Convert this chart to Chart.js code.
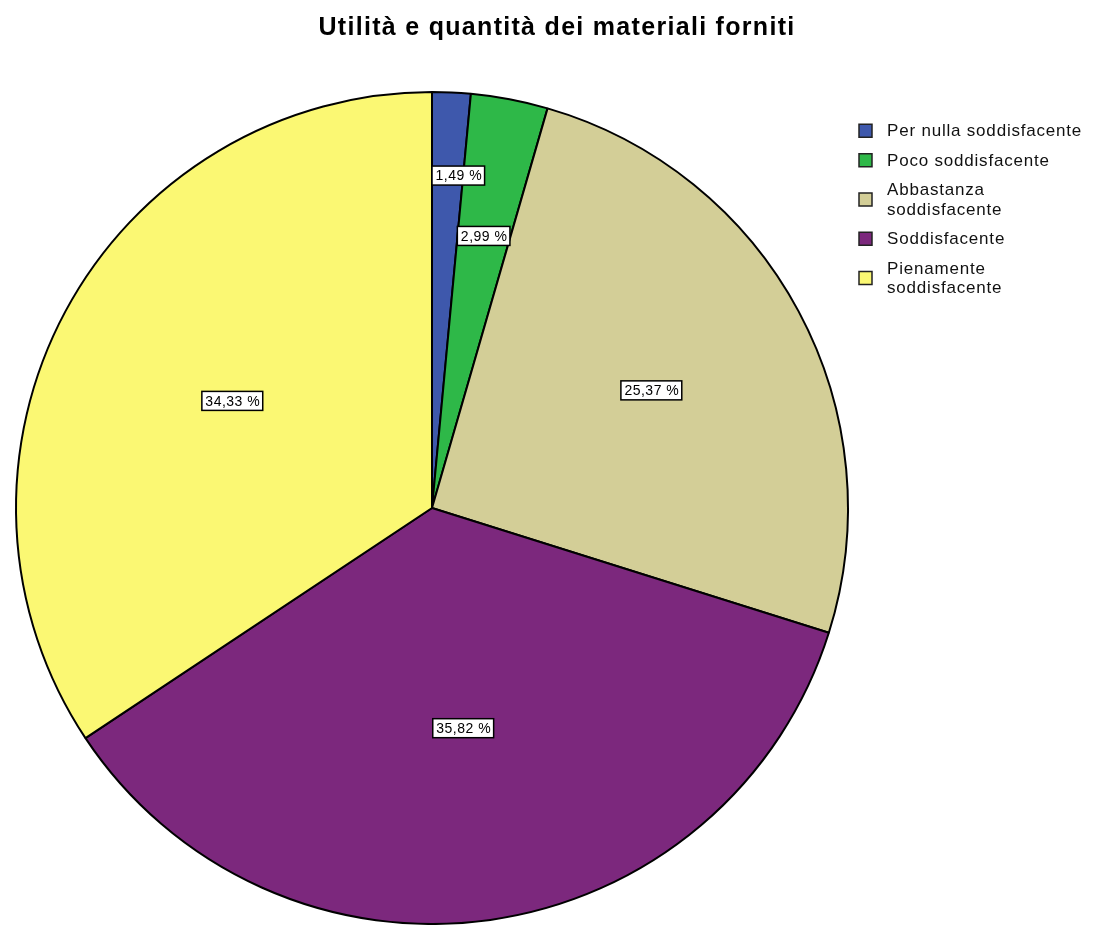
<!DOCTYPE html>
<html lang="it">
<head>
<meta charset="utf-8">
<title>Utilità e quantità dei materiali forniti</title>
<script src="https://cdn.jsdelivr.net/npm/chart.js@4/dist/chart.umd.min.js"></script>
<style>
  html, body { margin: 0; padding: 0; background: #fff; }
  #chart { display: block; }
</style>
</head>
<body>
<canvas id="chart" width="1106" height="925"></canvas>
<script>
// data (percent of answers)
const categories = [
  ["Per nulla soddisfacente"],
  ["Poco soddisfacente"],
  ["Abbastanza", "soddisfacente"],
  ["Soddisfacente"],
  ["Pienamente", "soddisfacente"]
];
const percents = [1.49, 2.99, 25.37, 35.82, 34.33];
const sliceColors = ["#3E58AC", "#2EB848", "#D3CE97", "#7C287D", "#FBF873"];
const chartTitle = "Utilità e quantità dei materiali forniti";

const FONT = "'Liberation Sans', Arial, sans-serif";

function formatPct(v) {
  return v.toFixed(2).replace(".", ",") + " %";
}

// title drawn by hand so it can sit centred on the whole canvas
const titlePlugin = {
  id: "spssTitle",
  afterDraw(chart) {
    const ctx = chart.ctx;
    ctx.save();
    ctx.font = "bold 25px " + FONT;
    ctx.letterSpacing = "1.3px";
    ctx.fillStyle = "#000";
    ctx.textAlign = "center";
    ctx.textBaseline = "alphabetic";
    ctx.fillText(chartTitle, chart.width / 2 + 4, 35);
    ctx.restore();
  }
};

// legend on the right, multi-line items
const legendPlugin = {
  id: "spssLegend",
  afterDraw(chart) {
    const ctx = chart.ctx;
    const lineH = 19.5;
    const gap = 10;
    const boxX = 859;
    const boxSize = 13;
    const textX = 887;
    let top = 121;
    ctx.save();
    ctx.font = "17px " + FONT;
    ctx.letterSpacing = "0.8px";
    ctx.textBaseline = "middle";
    ctx.textAlign = "left";
    categories.forEach((lines, i) => {
      const h = lines.length * lineH;
      const cy = top + h / 2;
      ctx.fillStyle = sliceColors[i];
      ctx.fillRect(boxX, cy - boxSize / 2, boxSize, boxSize);
      ctx.strokeStyle = "#222";
      ctx.lineWidth = 1.5;
      ctx.strokeRect(boxX, cy - boxSize / 2, boxSize, boxSize);
      ctx.fillStyle = "#111";
      lines.forEach((line, j) => {
        ctx.fillText(line, textX, top + lineH * j + lineH / 2 + 1);
      });
      top += h + gap;
    });
    ctx.restore();
  }
};

// percentage boxes placed at the centroid of each slice
const sliceLabelPlugin = {
  id: "sliceLabels",
  afterDatasetsDraw(chart) {
    const ctx = chart.ctx;
    const arcs = chart.getDatasetMeta(0).data;
    const order = percents.map((v, i) => i).sort((a, b) => percents[b] - percents[a]);
    const placed = [];
    const boxH = 19;

    ctx.save();
    ctx.font = "14px " + FONT;
    ctx.letterSpacing = "0.5px";
    ctx.textAlign = "center";
    ctx.textBaseline = "middle";

    const overlaps = (a, b) =>
      a.x < b.x + b.w && b.x < a.x + a.w && a.y < b.y + b.h && b.y < a.y + a.h;

    order.forEach(i => {
      const p = arcs[i].getProps(["x", "y", "startAngle", "endAngle", "outerRadius"], true);
      const half = (p.endAngle - p.startAngle) / 2;
      const mid = p.startAngle + half;
      const text = formatPct(percents[i]);
      const w = ctx.measureText(text).width + 6;

      const boxAt = dist => {
        const cx = p.x + Math.cos(mid) * dist;
        const cy = p.y + Math.sin(mid) * dist;
        return { x: cx - w / 2, y: cy - boxH / 2, w: w, h: boxH, cx: cx, cy: cy };
      };

      let box = boxAt((2 * p.outerRadius * Math.sin(half)) / (3 * half));
      if (placed.some(b => overlaps(b, box))) {
        box = boxAt(p.outerRadius * 0.8);
        // keep a pushed-out box from crossing the slice's starting edge
        const s = Math.sin(p.startAngle);
        if (Math.abs(s) > 1e-6 && Math.cos(mid) > 0) {
          const rayX = p.x + Math.cos(p.startAngle) * ((box.cy - p.y) / s);
          if (box.x < rayX) {
            box.x = rayX;
            box.cx = rayX + w / 2;
          }
        }
      }
      placed.push(box);

      ctx.fillStyle = "#fff";
      ctx.fillRect(box.x, box.y, box.w, box.h);
      ctx.strokeStyle = "#000";
      ctx.lineWidth = 1.5;
      ctx.strokeRect(box.x, box.y, box.w, box.h);
      ctx.fillStyle = "#000";
      ctx.fillText(text, box.cx + 0.5, box.cy + 1);
    });
    ctx.restore();
  }
};

const ctx = document.getElementById("chart").getContext("2d");
new Chart(ctx, {
  type: "pie",
  data: {
    labels: categories.map(l => l.join(" ")),
    datasets: [{
      data: percents,
      backgroundColor: sliceColors,
      borderColor: "#000",
      borderWidth: 2,
      hoverOffset: 0
    }]
  },
  options: {
    responsive: false,
    animation: false,
    layout: {
      padding: { left: 15, top: 91, right: 257, bottom: 0 }
    },
    plugins: {
      legend: { display: false },
      title: { display: false },
      tooltip: { enabled: false }
    }
  },
  plugins: [sliceLabelPlugin, titlePlugin, legendPlugin]
});
</script>
</body>
</html>
